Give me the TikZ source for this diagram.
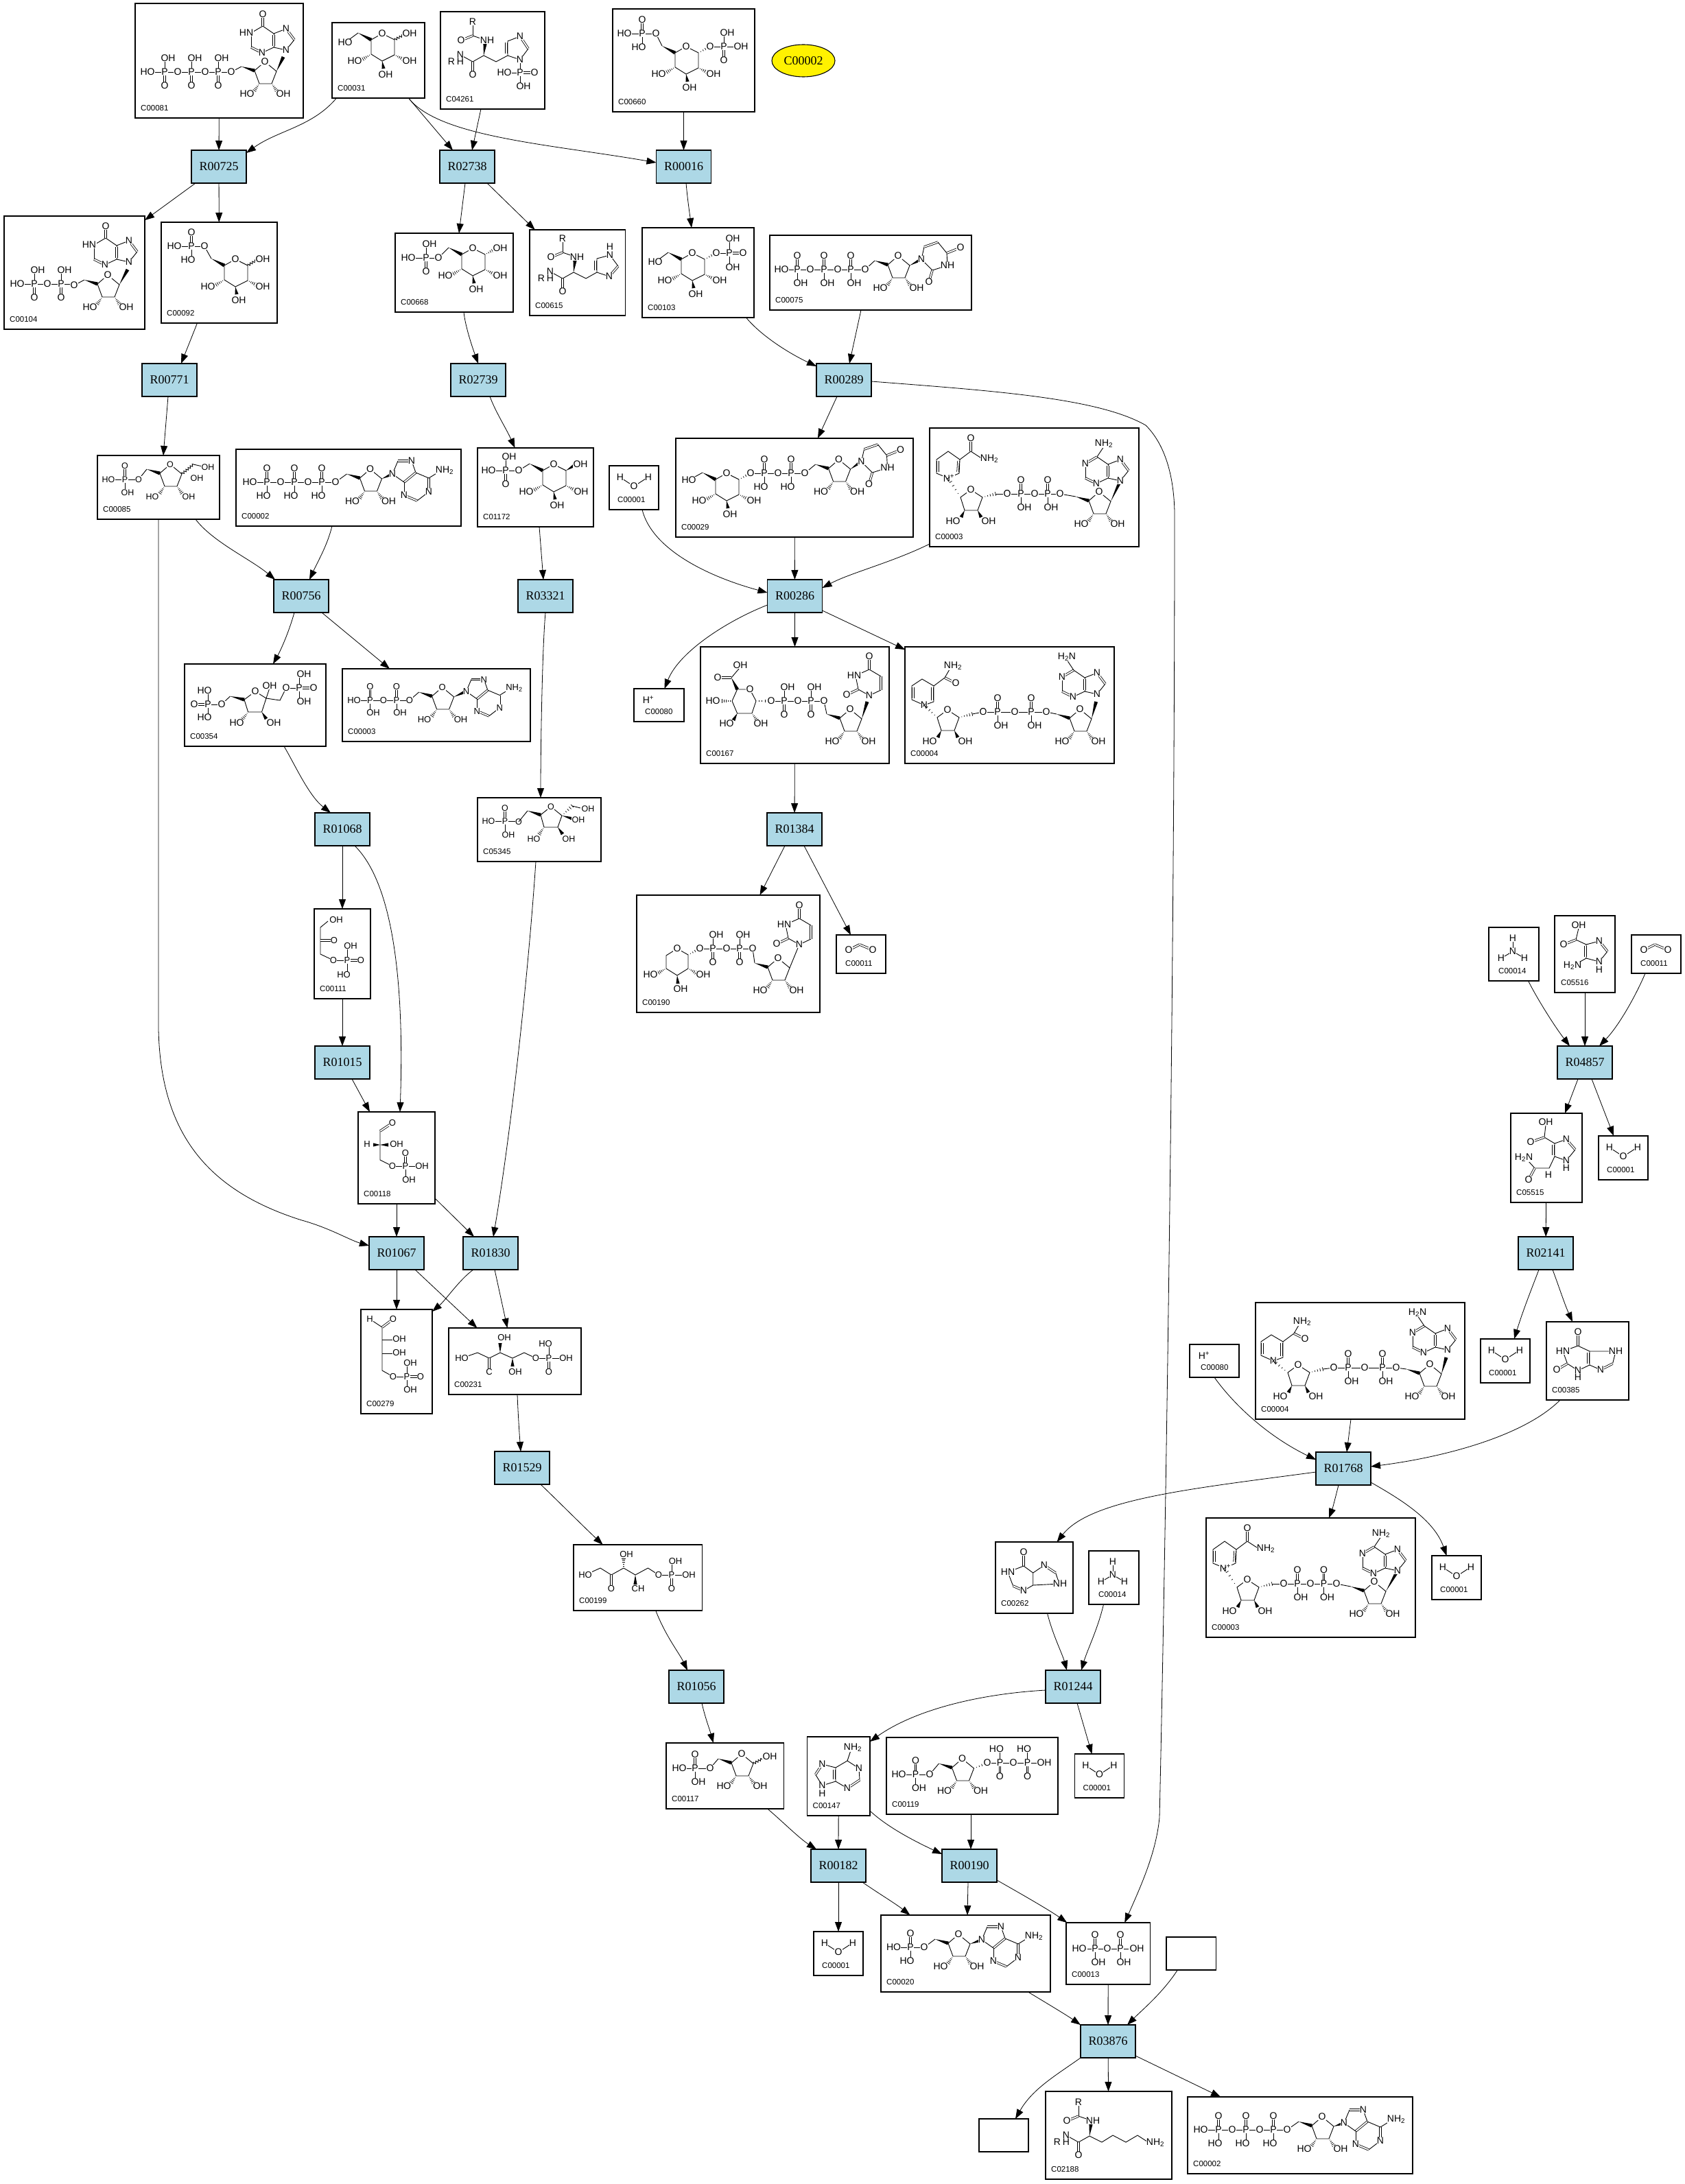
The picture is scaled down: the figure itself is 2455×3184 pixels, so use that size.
\documentclass[tikz,border=0pt]{standalone}
\usepackage{fontspec}
\setmainfont{Liberation Sans}
\newfontfamily\rfont{Liberation Serif}
\usetikzlibrary{calc,arrows.meta,shapes.geometric,decorations.pathmorphing}
\definecolor{lb}{HTML}{ADD8E6}
\def\afs{14}
\newcount\atomn
\tikzset{
 cpd/.style={draw,line width=1.1pt,inner sep=0pt,outer sep=0pt},
 rxn/.style={draw,line width=1.1pt,fill=lb,inner sep=0pt,outer sep=0pt,minimum width=80pt,minimum height=48pt,font=\rfont\fontsize{18}{18}\selectfont},
 lbl/.style={anchor=west,inner sep=0pt,font=\fontsize{11.5}{11.5}\selectfont},
 atom/.style={fill=white,inner sep=0.4pt,font=\fontsize{\afs}{\afs}\selectfont},
 bond/.style={line width=0.9pt},
 dbl/.style={line width=0.8pt,double,double distance=1.8pt},
 conn/.style={line width=0.8pt,-{Triangle[length=14pt,width=10pt]}},
}
\newcommand\At[3]{\global\advance\atomn by 1 \node[atom] (at\the\atomn) at (#1,#2) {#3};}
\newcommand\Bd[1]{\draw[bond] #1;}
\newcommand\Db[1]{\draw[dbl] #1;}
\newcommand\HL[3]{\draw[bond] (#1,#3)--(#2,#3);}
\newcommand\Wd[2]{\fill (#1) -- ($(#2)!2.6pt!90:(#1)$) -- ($(#2)!2.6pt!-90:(#1)$) -- cycle;}
\newcommand\Hs[2]{\foreach \hh in {.2,.4,.6,.8,1}{\draw[line width=.7pt] ($(#1)!\hh!(#2)!\hh*2.8pt!90:(#1)$) -- ($(#1)!\hh!(#2)!\hh*2.8pt!-90:(#1)$);}}
\newcommand\Wv[2]{\draw[bond,decorate,decoration={zigzag,amplitude=1.6pt,segment length=4pt}] (#1)--(#2);}
\def\offO{0}\def\offOH{5}\def\offHO{-5}\def\dblO{}
\newcommand\Vb[4]{\pgfmathsetmacro\tx{#1+\csname off#3\endcsname}\pgfmathsetmacro\ty{#2+(#4)}%
 \ifcsname dbl#3\endcsname\draw[dbl] (#1,#2)--(#1,\ty);\else\draw[bond] (#1,#2)--(#1,\ty);\fi\At{\tx}{\ty}{#3}}
\newcommand\PP[4]{\Vb{#1}{#2}{#3}{-20}\Vb{#1}{#2}{#4}{20}\At{#1}{#2}{P}}
\newcommand\Rib[4]{\begin{scope}[shift={(#1,#2)}]
 \Bd{(-15,13)--(0,0)--(17,14)--(10,32)--(-8,32)--cycle}
 \coordinate (ch) at (-34,7);\coordinate (c1) at (17,14);
 \Wd{-34,7}{-15,13}\Hs{-8,32}{-15,42}\Hs{10,32}{17,42}
 \At{0}{0}{O}\At{-26}{47}{HO}\At{27}{47}{OH}\end{scope}
 \Bd{(ch)--(#3,#4)}\At{#3}{#4}{O}}
\newcommand\RibN[6]{\begin{scope}[shift={(#1,#2)}]
 \Bd{(-15,11)--(0,0)--(17,11)--(10,30)--(-9,30)--cycle}
 \coordinate (rc1) at (-15,11);\coordinate (rc4) at (36,6);
 \Hs{17,11}{36,6}\Wd{-9,30}{-14,40}\Wd{10,30}{15,40}
 \At{0}{0}{O}\At{-26}{46}{HO}\At{26}{46}{OH}\end{scope}
 \Hs{rc1}{#3,#4}\Bd{(rc4)--(#5,#6)}\At{#5}{#6}{O}}
\newcommand\Pyr[2]{\begin{scope}[shift={(#1,#2)}]
 \Bd{(-16,9)--(0,0)--(18,9)--(18,31)--(0,40)--(-16,30)--cycle}
 \coordinate (ch) at (-35,-1);\coordinate (c1) at (18,9);
 \Wd{-35,-1}{-16,9}\Hs{-16,30}{-28,37}\Hs{18,31}{30,37}\Wd{0,40}{2,51}
 \At{0}{0}{O}\At{-40}{40}{HO}\At{40}{40}{OH}\At{5}{60}{OH}\end{scope}}
\newcommand\PurS{%
 \Bd{(0,0)--(12,-15)}\Db{(12,-15)--(0,-31)}\Bd{(0,-31)--(-18,-24)}\Bd{(-18,-24)--(-18,-4)}
 \Bd{(-18,-4)--(0,0)}\Bd{(-18,-4)--(-35,4)}\Db{(-35,4)--(-51,-4)}\Bd{(-51,-4)--(-51,-25)}
 \Bd{(-34,-35)--(-18,-24)}\Bd{(-51,-25)--(-34,-35)}\Db{(-18,-22)--(-18,-6)}
 \At{0}{0}{N}\At{0}{-31}{N}\At{-35}{4}{N}}
\newcommand\PurA[4]{\begin{scope}[shift={(#1,#2)}]\PurS\Db{(-51,-25)--(-34,-35)}
 \Bd{(-34,-35)--(#3,-50)}\At{-51}{-25}{N}\At{#3}{-54}{#4}\end{scope}}
\newcommand\PurH[2]{\begin{scope}[shift={(#1,#2)}]\PurS
 \Db{(-34,-35)--(-34,-50)}\At{-58}{-25}{HN}\At{-34}{-52}{O}\end{scope}}
\newcommand\AdeR[2]{\begin{scope}[shift={(#1,#2)}]
 \Bd{(0,0)--(8,-19)}\Db{(8,-19)--(28,-19)}\Bd{(28,-19)--(34,-2)}\Db{(34,-2)--(17,12)}\Bd{(17,12)--(0,0)}
 \Bd{(17,12)--(17,31)}\Db{(17,31)--(36,39)}\Bd{(36,39)--(53,26)}\Db{(53,26)--(53,6)}\Bd{(53,6)--(34,-2)}\Bd{(53,6)--(66,-2)}
 \At{0}{0}{N}\At{28}{-19}{N}\At{17}{31}{N}\At{53}{26}{N}\At{76}{-5}{NH\textsubscript{2}}\end{scope}}
\newcommand\UraA[2]{\begin{scope}[shift={(#1,#2)}]
 \Bd{(0,0)--(4,-18)}\Db{(4,-18)--(24,-25)}\Bd{(24,-25)--(37,-9)}\Db{(37,-9)--(57,-17)}\Bd{(37,-9)--(38,9)}\Bd{(38,9)--(16,16)}\Db{(16,16)--(11,33)}\Bd{(16,16)--(0,0)}
 \At{0}{0}{N}\At{38}{9}{NH}\At{57}{-17}{O}\At{11}{33}{O}\end{scope}}
\newcommand\UraB[2]{\begin{scope}[shift={(#1,#2)}]
 \Bd{(0,0)--(17,-8)}\Db{(17,-8)--(17,-28)}\Bd{(17,-28)--(0,-38)}\Db{(0,-38)--(0,-57)}\Bd{(0,-38)--(-20,-29)}\Bd{(-20,-29)--(-16,-9)}\Db{(-16,-9)--(-33,-1)}\Bd{(-16,-9)--(0,0)}
 \At{0}{0}{N}\At{-22}{-29}{HN}\At{0}{-57}{O}\At{-33}{-1}{O}\end{scope}}
\newcommand\Pept[2]{\begin{scope}[shift={(#1,#2)}]
 \Wd{0,0}{2,-17}\Bd{(0,0)--(-16,9)}\Db{(-16,9)--(-16,28)}\Bd{(-16,9)--(-34,-1)}\Bd{(0,0)--(18,9)}
 \Bd{(4,-22)--(-16,-29)}\Bd{(-16,-29)--(-16,-49)}\Db{(-16,-29)--(-33,-22)}
 \At{-16}{28}{O}\At{-34}{-1}{N}\At{-34}{9}{H}\At{-47}{9}{R}\At{5}{-22}{NH}\At{-16}{-49}{R}\At{-33}{-22}{O}\end{scope}}
\newcommand\Nam[2]{\begin{scope}[shift={(#1,#2)}]
 \Bd{(0,0)--(16,-7)--(17,-27)--(0,-39)--(-17,-27)--(-17,-7)--cycle}
 \Db{(14,-9)--(15,-25)}\Db{(-15,-25)--(-15,-9)}\Bd{(17,-27)--(33,-39)}\Db{(33,-39)--(33,-58)}\Bd{(33,-39)--(50,-28)}
 \At{33}{-58}{O}\At{60}{-28}{NH\textsubscript{2}}\At{1}{0}{N\textsuperscript{+}}\end{scope}}
\newcommand\NamH[2]{\begin{scope}[shift={(#1,#2)}]
 \Bd{(0,0)--(14,-5)--(14,-28)--(-3,-38)--(-18,-28)--(-18,-8)--cycle}
 \Db{(-16,-26)--(-16,-10)}\Db{(12,-7)--(12,-26)}\Bd{(14,-28)--(30,-40)}\Db{(30,-40)--(46,-32)}\Bd{(30,-40)--(37,-52)}
 \At{46}{-32}{O}\At{42}{-57}{NH\textsubscript{2}}\At{0}{0}{N}\end{scope}}
\newcommand\Bx[5]{\pgfmathsetmacro\cx{(#2+#4)/2}\pgfmathsetmacro\cy{(#3+#5)/2}\pgfmathsetmacro\bw{#4-(#2)}\pgfmathsetmacro\bh{#5-(#3)}%
 \node[cpd,minimum width=\bw pt,minimum height=\bh pt] (#1) at (\cx,\cy) {};}
\newcommand\Cpd[7][8]{\Bx{#2}{#3}{#4}{#5}{#6}\pgfmathsetmacro\lx{#3+#1}\pgfmathsetmacro\ly{#6-14}%
 \node[lbl] (l#2) at (\lx,\ly) {#7};}
\newcommand\Rn[3]{\pgfmathsetmacro\cx{#2+40}\pgfmathsetmacro\cy{#3+24}\node[rxn] (#1) at (\cx,\cy) {#1};}
\newcommand\Water[3]{\pgfmathsetmacro\xb{#2+72}\pgfmathsetmacro\yb{#3+64}\Cpd[12]{#1}{#2}{#3}{\xb}{\yb}{C00001}
 \begin{scope}[shift={(#2,#3)}]\Bd{(16,17)--(36,30)--(56,17)}\At{16}{17}{H}\At{36}{30}{O}\At{57}{17}{H}\end{scope}}
\newcommand\COO[3]{\pgfmathsetmacro\xb{#2+72}\pgfmathsetmacro\yb{#3+56}\Cpd[13]{#1}{#2}{#3}{\xb}{\yb}{C00011}
 \begin{scope}[shift={(#2,#3)}]\Db{(18,22)--(34,14)}\Db{(34,14)--(53,22)}\At{18}{22}{O}\At{53}{22}{O}\end{scope}}
\newcommand\Amm[3]{\pgfmathsetmacro\xb{#2+73}\pgfmathsetmacro\yb{#3+78}\Cpd[14]{#1}{#2}{#3}{\xb}{\yb}{C00014}
 \begin{scope}[shift={(#2,#3)}]\Bd{(35,16)--(35,35)}\Bd{(18,45)--(35,35)--(52,45)}\At{35}{16}{H}\At{35}{35}{N}\At{18}{45}{H}\At{52}{45}{H}\end{scope}}
\begin{document}
\begin{tikzpicture}[x=1pt,y=-1pt]
\fill[white,use as bounding box] (0,0) rectangle (2455,3184);
% ---------- reactions
\Rn{R00725}{279}{219}\Rn{R02738}{641}{219}\Rn{R00016}{956.5}{219}
\Rn{R00771}{207}{530}\Rn{R02739}{657}{530}\Rn{R00289}{1190}{530}
\Rn{R00756}{399}{845}\Rn{R03321}{755}{845}\Rn{R00286}{1118.5}{845}
\Rn{R01068}{459}{1185}\Rn{R01384}{1118}{1185}\Rn{R01015}{459}{1525}\Rn{R04857}{2270}{1525}
\Rn{R01067}{538}{1803}\Rn{R01830}{675}{1803}\Rn{R02141}{2213}{1803}
\Rn{R01768}{1918}{2117}\Rn{R01529}{721}{2116}\Rn{R01056}{975}{2435}\Rn{R01244}{1524}{2435}
\Rn{R00182}{1182}{2696}\Rn{R00190}{1373}{2696}\Rn{R03876}{1575}{2952}
\node[draw,line width=1.1pt,fill=yellow,ellipse,inner sep=0pt,minimum width=92pt,minimum height=47pt,font=\rfont\fontsize{18}{18}\selectfont] (C00002y) at (1171,88.5) {C00002};
% ---------- C00081
\Cpd{C00081}{197}{5}{442}{172}{C00081}
\HL{225}{337}{105}\PP{240}{105}{OH}{O}\PP{279}{105}{OH}{O}\PP{318}{105}{OH}{O}
\At{215}{105}{HO}\At{259}{105}{O}\At{299}{105}{O}
\Rib{386}{90}{337}{105}\Wd{c1}{413,83}\PurH{417}{73}
% C00031
\Cpd{C00031}{484}{33}{619}{143}{C00031}
\Pyr{557}{49}\Bd{(ch)--(503,62)}\At{503}{62}{HO}\Wv{c1}{590,50}\At{597}{49}{OH}
% C04261
\Cpd{C04261}{642}{17}{794}{159}{C04261}
\Pept{705}{81}\Bd{(723,90)--(740,81)--(740,60)--(758,53)--(770,71)--(758,87)--(740,81)}\Bd{(758,87)--(758,106)}\HL{745}{768}{106}
\Db{(738,78)--(738,62)}\Db{(758,53)--(770,71)}\At{758}{53}{N}\At{758}{87}{N}
\Db{(758,106)--(779,106)}\Bd{(758,106)--(758,126)}\At{735}{106}{HO}\At{758}{106}{P}\At{779}{106}{O}\At{763}{126}{OH}
% C00660
\Cpd{C00660}{893}{13}{1100}{163}{C00660}
\HL{920}{956}{49}\PP{936}{49}{O}{HO}\At{910}{49}{HO}
\Pyr{1000}{68}\Bd{(ch)--(956,49)}\At{956}{49}{O}\Hs{c1}{1035,68}
\HL{1035}{1075}{68}\PP{1055}{68}{OH}{O}\At{1035}{68}{O}\At{1080}{68}{OH}
% C00104
\Cpd{C00104}{6}{315}{211}{480}{C00104}
\HL{35}{108}{414}\PP{50}{414}{OH}{O}\PP{89}{414}{OH}{O}\At{25}{414}{HO}\At{69}{414}{O}
\Rib{157}{401}{108}{416}\Wd{c1}{186,393}\PurH{188}{382}
% C00092
\Cpd{C00092}{235}{324}{404}{471}{C00092}
\HL{265}{298}{359}\PP{279}{359}{O}{HO}\At{254}{359}{HO}
\Pyr{343}{378}\Bd{(ch)--(298,359)}\At{298}{359}{O}\Wv{c1}{376,378}\At{383}{378}{OH}
% C00668
\Cpd{C00668}{576}{340}{748}{455}{C00668}
\HL{605}{639}{376}\PP{621}{376}{OH}{O}\At{595}{376}{HO}
\Pyr{689}{362}\Bd{(ch)--(639,376)}\At{639}{376}{O}\Hs{c1}{720,364}\At{729}{362}{OH}
% C00615
\Cpd{C00615}{772}{335}{911.5}{460}{C00615}
\Pept{836}{397}\Bd{(854,406)--(870,397)--(870,377)--(889,372)--(901,388)--(888,403)--(870,397)}\Db{(868,394)--(868,380)}\Db{(901,388)--(888,403)}
\At{889}{372}{N}\At{889}{360}{H}\At{888}{403}{N}
% C00103
\Cpd{C00103}{936}{332}{1099}{463}{C00103}
\Pyr{1009}{369}\Bd{(ch)--(955,382)}\At{955}{382}{HO}\Hs{c1}{1044,369}
\HL{1044}{1063}{369}\Db{(1063,369)--(1082,369)}\Bd{(1063,348)--(1063,390)}
\At{1044}{369}{O}\At{1063}{369}{P}\At{1083}{369}{O}\At{1068}{348}{OH}\At{1068}{390}{OH}
% C00075
\Cpd{C00075}{1122}{343}{1416}{452}{C00075}
\HL{1150}{1261}{393}\PP{1162}{393}{O}{OH}\PP{1201}{393}{O}{OH}\PP{1240}{393}{O}{OH}
\At{1139}{393}{HO}\At{1181}{393}{O}\At{1221}{393}{O}
\Rib{1309}{373}{1261}{393}\Wd{c1}{1343,378}\UraA{1343}{378}
% C00085
\def\afs{12.5}
\Cpd{C00085}{142}{664}{320}{757}{C00085}
\HL{165}{202}{699}\Db{(182,699)--(182,679)}\Bd{(182,699)--(182,718)}\At{158}{699}{HO}\At{182}{699}{P}\At{182}{679}{O}\At{186}{718}{OH}
\Rib{248}{677}{202}{699}\Wv{c1}{282,677}\Bd{(282,677)--(295,680)}\At{303}{681}{OH}\At{287}{697}{OH}
\def\afs{14}
% C00002
\Cpd{C00002}{344}{655}{672}{767}{C00002}
\HL{375}{489}{703}\PP{389}{703}{O}{HO}\PP{429}{703}{O}{HO}\PP{469}{703}{O}{HO}
\At{364}{703}{HO}\At{409}{703}{O}\At{449}{703}{O}
\Rib{539.5}{684}{489}{703}\Wd{c1}{572,691}\AdeR{572}{691}
% C01172
\Cpd{C01172}{696}{653}{865}{768}{C01172}
\HL{722}{756}{686}\PP{737}{686}{OH}{O}\At{712}{686}{HO}
\Pyr{807}{677}\Bd{(ch)--(756,686)}\At{756}{686}{O}\Wd{c1}{838,678}\At{846}{677}{OH}
% C00354
\Cpd{C00354}{269}{968}{475}{1088}{C00354}
\Bd{(356,1020)--(372,1008)--(388,1018)--(381.5,1038)--(361.6,1038)--cycle}
\Wd{335.5,1015}{356,1020}\Bd{(335.5,1015)--(323,1027)}\Bd{(388,1018)--(393,1003)}\Bd{(388,1018)--(408,1021)--(417,1003)}
\Hs{361.6,1038}{354,1048}\Wd{381.5,1038}{388,1048}
\At{372}{1008}{O}\At{393}{1000}{OH}\At{345}{1054}{HO}\At{399}{1054}{OH}
\HL{417}{436}{1003}\Db{(436,1003)--(457,1003)}\Bd{(436,983)--(436,1023)}\At{417}{1003}{O}\At{436}{1003}{P}\At{457}{1003}{O}\At{443}{983}{OH}\At{443}{1023}{OH}
\HL{303}{323}{1027}\Db{(303,1027)--(283,1027)}\Bd{(303,1007)--(303,1046)}\At{303}{1027}{P}\At{283}{1027}{O}\At{298}{1007}{HO}\At{298}{1046}{HO}\At{323}{1027}{O}
% C00003a
\def\afs{13}
\Cpd{C00003a}{499}{975}{773}{1081}{C00003}
\HL{525}{597}{1021}\Db{(539.5,1021)--(539.5,1001)}\Bd{(539.5,1021)--(539.5,1039)}\Db{(578,1021)--(578,1001)}\Bd{(578,1021)--(578,1039)}
\At{516}{1021}{HO}\At{539.5}{1021}{P}\At{559}{1021}{O}\At{578}{1021}{P}\At{539.5}{1001}{O}\At{578}{1001}{O}\At{544}{1039}{OH}\At{583}{1039}{OH}
\Rib{644.6}{1002}{597}{1021}\Wd{c1}{679,1008}
\begin{scope}[shift={(679.6,1008)},scale=.92]\Bd{(0,0)--(8,-19)}\Db{(8,-19)--(28,-19)}\Bd{(28,-19)--(34,-2)}\Db{(34,-2)--(17,12)}\Bd{(17,12)--(0,0)}
\Bd{(17,12)--(17,31)}\Db{(17,31)--(36,39)}\Bd{(36,39)--(53,26)}\Db{(53,26)--(53,6)}\Bd{(53,6)--(34,-2)}\Bd{(53,6)--(66,-2)}
\At{0}{0}{N}\At{28}{-19}{N}\At{17}{31}{N}\At{53}{26}{N}\At{76}{-5}{NH\textsubscript{2}}\end{scope}
\def\afs{14}
% C00001s, H+
\Water{C00001a}{888}{679}
\Cpd[16]{C00080a}{924}{1004}{997}{1052}{C00080}\At{945}{1020}{H\textsuperscript{+}}
% C00029
\Cpd{C00029}{985}{639}{1331}{783}{C00029}
\Pyr{1059}{690}\Bd{(ch)--(1004,700)}\At{1004}{700}{HO}\Hs{c1}{1094,690}
\HL{1094}{1173}{690}\Vb{1114}{690}{O}{-20}\Vb{1114}{690}{HO}{20}\At{1114}{690}{P}\Vb{1153}{690}{O}{-20}\Vb{1153}{690}{HO}{20}\At{1153}{690}{P}
\At{1094}{690}{O}\At{1134}{690}{O}
\Rib{1222.6}{670}{1173}{690}\Wd{c1}{1255,673}\UraA{1255.5}{673}
% C00003b
\Cpd{C00003b}{1355}{624}{1660}{797}{C00003}
\Nam{1382}{697}\RibN{1415}{714}{1382}{697}{1468}{720}
\HL{1468}{1545}{720}\PP{1488}{720}{O}{OH}\PP{1527}{720}{O}{OH}\At{1468}{720}{O}\At{1508}{720}{O}
\Rib{1602}{717}{1545}{720}\Wd{c1}{1633,701}\PurA{1633}{701}{-24}{NH\textsubscript{2}}
% C00167
\Cpd{C00167}{1021}{943}{1296}{1113}{C00167}
\Bd{(1093,1005)--(1074.6,1005)--(1067,1022)--(1074.6,1040)--(1096,1040)--(1102,1022)--cycle}
\Wd{1066,988}{1074.6,1005}\Db{(1066,988)--(1046,988)}\Bd{(1066,988)--(1077,975)}\At{1079}{970}{OH}\At{1046}{988}{O}
\At{1093}{1005}{O}\Hs{1067,1022}{1052,1022}\At{1039}{1022}{HO}\Wd{1074.6,1040}{1069,1050}\At{1059}{1055}{HO}\Hs{1096,1040}{1103,1050}\At{1109}{1055}{OH}\Hs{1102,1022}{1124,1022}
\HL{1124}{1201}{1022}\PP{1143}{1022}{OH}{O}\PP{1182}{1022}{OH}{O}\At{1124}{1022}{O}\At{1163}{1022}{O}
\Rib{1239}{1034}{1201}{1022}\Wd{c1}{1264,1023}\UraB{1267}{1014}
% C00004a
\Cpd{C00004a}{1319}{943}{1624}{1113}{C00004}
\NamH{1347}{1028}\RibN{1381}{1035}{1347}{1028}{1433}{1038}
\HL{1433}{1525}{1038}\PP{1454}{1038}{O}{OH}\PP{1503}{1038}{O}{OH}\At{1433}{1038}{O}\At{1479}{1038}{O}
\Rib{1574}{1034}{1525}{1038}\Wd{c1}{1597.6,1023}\PurA{1599}{1012}{-44}{H\textsubscript{2}N}
% C00190
\Cpd{C00190}{928}{1305}{1195}{1476}{C00190}
\Bd{(987,1383)--(971,1393)--(971,1412)--(987,1422)--(1003,1412)--(1003,1392)--cycle}
\Hs{971,1412}{960,1418}\Hs{1003,1412}{1014,1418}\Wd{987,1422}{988,1434}\At{987}{1383}{O}\At{948}{1421}{HO}\At{1025}{1421}{OH}\At{992}{1442}{OH}\Hs{1003,1392}{1020,1383}
\HL{1020}{1097}{1383}\PP{1039}{1383}{OH}{O}\PP{1078}{1383}{OH}{O}\At{1020}{1383}{O}\At{1059}{1383}{O}
\Rib{1134}{1397}{1097}{1383}\Bd{(c1)--(1165,1377)}\UraB{1165}{1377}
% C00011a
\COO{C00011a}{1219}{1363}
% C05345
\def\afs{12.5}
\Cpd{C05345}{696}{1163}{876}{1256}{C05345}
\HL{712}{756}{1197}\Db{(736,1197)--(736,1178)}\Bd{(736,1197)--(736,1217)}\At{712}{1197}{HO}\At{736}{1197}{P}\At{736}{1178}{O}\At{741}{1217}{OH}\At{756}{1198}{O}
\Bd{(756,1198)--(769,1182)}\Wd{769,1182}{788,1188}\Bd{(788,1188)--(803,1176)--(819,1189)--(813,1206)--(793,1206)--cycle}
\Hs{793,1206}{786,1216}\Wd{813,1206}{820,1216}\Hs{819,1189}{834,1175}\Bd{(834,1175)--(846,1178)}\Wd{819,1189}{836,1194}
\At{803}{1176}{O}\At{857}{1179}{OH}\At{843}{1195}{OH}\At{778}{1223}{HO}\At{829}{1223}{OH}
\def\afs{13}
% C00111
\Cpd{C00111}{458}{1325}{540}{1456}{C00111}
\Bd{(478,1343)--(467,1352)--(467,1391)--(486,1400)}\Db{(467,1371)--(487,1371)}\HL{486}{506}{1400}\Db{(506,1400)--(526,1400)}\Bd{(506,1381)--(506,1419)}
\At{490}{1341}{OH}\At{487}{1371}{O}\At{486}{1400}{O}\At{506}{1400}{P}\At{526}{1400}{O}\At{511}{1379}{OH}\At{501}{1421}{HO}
% C00118
\Cpd{C00118}{522}{1621}{634}{1755}{C00118}
\Db{(554,1649)--(572,1637)}\Bd{(554,1649)--(554,1691)--(572,1700)}\Wd{554,1669}{544,1669}\Wd{554,1669}{566,1669}
\HL{572}{615}{1700}\Db{(591,1700)--(591,1681)}\Bd{(591,1700)--(591,1720)}
\At{572}{1637}{O}\At{535}{1668}{H}\At{578}{1668}{OH}\At{572}{1700}{O}\At{591}{1700}{P}\At{615}{1700}{OH}\At{591}{1681}{O}\At{596}{1720}{OH}
% C00279
\Cpd{C00279}{526}{1909}{630}{2061}{C00279}
\Bd{(539,1923)--(557,1935)--(557,1998)--(573,2007)}\Db{(557,1935)--(573,1923)}\Bd{(557,1953)--(582,1953)}\Bd{(557,1973)--(582,1973)}
\HL{573}{593}{2007}\Db{(593,2007)--(613,2007)}\Bd{(593,1988)--(593,2026)}
\At{539}{1923}{H}\At{573}{1923}{O}\At{582}{1952}{OH}\At{582}{1972}{OH}\At{573}{2007}{O}\At{593}{2007}{P}\At{613}{2007}{O}\At{598}{1987}{OH}\At{598}{2026}{OH}
% C00231
\Cpd{C00231}{654}{1936}{847}{2033}{C00231}
\Bd{(673,1980)--(696,1972)--(713,1980)--(729,1972)--(747,1980)--(764,1972)--(781,1980)}\Db{(713,1980)--(713,2000)}\Wd{729,1972}{729,1958}\Wd{747,1980}{747,1992}
\HL{781}{825}{1980}\Db{(800,1980)--(800,2000)}\Bd{(800,1980)--(800,1960)}
\At{673}{1980}{HO}\At{713}{2000}{C}\At{735}{1950}{OH}\At{751}{2000}{OH}\At{781}{1980}{O}\At{800}{1980}{P}\At{825}{1980}{OH}\At{795}{1959}{HO}\At{800}{2000}{O}
% C00199
\Cpd{C00199}{836}{2252}{1023.5}{2348}{C00199}
\Bd{(853,2296)--(875,2286)--(891,2296)--(909,2286)--(926,2296)--(944.5,2286)--(960,2296)}\Db{(891,2296)--(891,2316)}\Hs{909,2286}{909,2272}\Wd{926,2296}{926,2310}
\HL{960}{1004}{2296}\Db{(979,2296)--(979,2316)}\Bd{(979,2296)--(979,2276)}
\At{853}{2296}{HO}\At{891}{2316}{O}\At{913}{2266}{OH}\At{930}{2316}{CH}\At{960}{2296}{O}\At{979}{2296}{P}\At{1004}{2296}{OH}\At{984.5}{2276}{OH}\At{979}{2316}{O}
\def\afs{14}
% C00117
\Cpd{C00117}{971}{2541}{1142.5}{2637}{C00117}
\HL{990}{1035}{2578}\PP{1013}{2578}{O}{OH}\At{990}{2578}{HO}
\Rib{1081}{2557}{1035}{2578}\Wv{c1}{1115,2562}\At{1122}{2561}{OH}
% C00147
\Cpd{C00147}{1176.5}{2532}{1268}{2647}{C00147}
\Bd{(1235,2567)--(1252,2578)--(1253,2595)--(1235,2607)--(1218,2597)--(1218,2577)--cycle}\Bd{(1218,2577)--(1198.5,2572)--(1188.6,2587)--(1198.5,2603)--(1218,2597)}
\Db{(1216,2580)--(1216,2594)}\Db{(1198.5,2572)--(1188.6,2587)}\Db{(1235,2607)--(1253,2595)}\Bd{(1235,2567)--(1240,2552)}
\At{1243}{2548}{NH\textsubscript{2}}\At{1252}{2578}{N}\At{1235}{2607}{N}\At{1198.5}{2572}{N}\At{1198.5}{2603}{N}\At{1198.5}{2615}{H}
% C00119
\Cpd{C00119}{1292}{2533}{1542}{2645}{C00119}
\HL{1320}{1355}{2587}\PP{1334.5}{2587}{O}{OH}\At{1310}{2587}{HO}
\Rib{1402.5}{2564}{1355}{2587}\Hs{c1}{1439,2570}
\HL{1439}{1522}{2570}\PP{1457.4}{2570}{HO}{O}\PP{1497.5}{2570}{HO}{O}\At{1439}{2570}{O}\At{1477}{2570}{O}\At{1522}{2570}{OH}
% C00262
\Cpd{C00262}{1451}{2248}{1564}{2352}{C00262}
\Db{(1492,2263)--(1492,2283)}\Bd{(1492,2283)--(1469,2292)--(1476.6,2312)--(1492,2319)--(1505.7,2311)--(1505.7,2293)--(1492,2283)}\Bd{(1505.7,2293)--(1522,2282)--(1538.6,2293)--(1544,2309)--(1505.7,2311)}\Db{(1476.6,2312)--(1492,2319)}\Db{(1522,2282)--(1538.6,2293)}
\At{1492}{2263}{O}\At{1469}{2292}{HN}\At{1492}{2319}{N}\At{1522}{2282}{N}\At{1545}{2309}{NH}
% waters etc
\Amm{C00014c}{1587}{2261}
\Water{C00001g}{1566.5}{2557}
\Water{C00001h}{1186}{2816}
% C00020
\Cpd{C00020}{1284}{2792}{1531}{2904}{C00020}
\HL{1312}{1347}{2839}\PP{1327}{2839}{O}{HO}\At{1302.5}{2839}{HO}
\Rib{1397}{2820}{1347}{2839}\Wd{c1}{1431,2828}\AdeR{1431}{2828}
% C00013
\Cpd{C00013}{1554}{2803}{1676.5}{2893}{C00013}
\HL{1585}{1645}{2841}\Vb{1596}{2841}{O}{-20}\Vb{1596}{2841}{OH}{20}\At{1596}{2841}{P}\Vb{1633}{2841}{O}{-20}\Vb{1633}{2841}{OH}{20}\At{1633}{2841}{P}
\At{1573}{2841}{HO}\At{1614}{2841}{O}\At{1657}{2841}{OH}
\Bx{Eempty}{1700}{2824}{1772.6}{2872}
\Bx{Fempty}{1427}{3089}{1499}{3137}
% C02188
\Cpd{C02188}{1524}{3049}{1708}{3177}{C02188}
\Pept{1588}{3114}\Bd{(1606,3123)--(1622,3113)--(1641,3123)--(1658,3113)--(1675,3124)}\At{1684}{3124}{NH\textsubscript{2}}
% C00002c
\Cpd{C00002c}{1731}{3057}{2059}{3169}{C00002}
\HL{1760}{1876}{3105}\PP{1776}{3105}{O}{HO}\PP{1816}{3105}{O}{HO}\PP{1856}{3105}{O}{HO}
\At{1750}{3105}{HO}\At{1796}{3105}{O}\At{1836}{3105}{O}
\Rib{1927}{3086}{1876}{3105}\Wd{c1}{1959,3095}\AdeR{1959}{3095}
% right side
\Amm{C00014a}{2170}{1352}
\Cpd[9]{C05516}{2266}{1335}{2354}{1447}{C05516}
\Bd{(2301,1353)--(2297,1370)--(2312,1377)}\Bd{(2312,1377)--(2331,1372)--(2343,1387)--(2331,1402)--(2312,1397)--cycle}\Db{(2297,1370)--(2279,1377)}\Db{(2311,1379)--(2311,1395)}\Db{(2331,1372)--(2343,1387)}\Bd{(2312,1397)--(2296,1406)}
\At{2301}{1349}{OH}\At{2279}{1377}{O}\At{2331}{1372}{N}\At{2331}{1402}{N}\At{2331}{1414}{H}\At{2292}{1408}{H\textsubscript{2}N}
\COO{C00011b}{2378}{1363}
\Cpd{C05515}{2202}{1623}{2306}{1753}{C05515}
\Bd{(2253,1640)--(2251,1658)--(2266,1667)}\Bd{(2266,1667)--(2283,1661)--(2296,1676)--(2283,1692)--(2266,1686)--cycle}\Db{(2251,1658)--(2231,1665)}\Db{(2264,1669)--(2264,1684)}\Db{(2283,1661)--(2296,1676)}\Bd{(2266,1686)--(2258,1703)--(2237,1703)--(2227,1692)}\Db{(2237,1703)--(2228,1720)}
\At{2253}{1636}{OH}\At{2231}{1665}{O}\At{2283}{1661}{N}\At{2283}{1692}{N}\At{2283}{1703}{H}\At{2257}{1713}{H}\At{2221}{1688}{H\textsubscript{2}N}\At{2228}{1720}{O}
\Water{C00001d}{2330}{1656}
\Water{C00001e}{2158}{1952}
\Cpd{C00385}{2254}{1927}{2374}{2041}{C00385}
\Db{(2300,1942)--(2300,1962)}\Bd{(2300,1962)--(2278,1970)--(2284.5,1988)--(2300,1998)--(2317,1990)--(2317,1970)--cycle}\Db{(2284.5,1988)--(2269,1997)}\Bd{(2317,1970)--(2355,1970)--(2350.5,1988)--(2333,1997)--(2317,1990)}\Db{(2315,1972)--(2315,1988)}\Db{(2350.5,1988)--(2333,1997)}
\At{2300}{1942}{O}\At{2278}{1970}{HN}\At{2269}{1997}{O}\At{2300}{1998}{N}\At{2300}{2008}{H}\At{2355}{1970}{NH}\At{2333}{1997}{N}
\Cpd[16]{C00080b}{1734}{1960}{1806}{2008}{C00080}\At{1755}{1976}{H\textsuperscript{+}}
% C00004b
\Cpd{C00004b}{1830}{1899}{2135}{2069}{C00004}
\NamH{1856}{1984}\RibN{1892}{1990}{1856}{1984}{1944}{1994}
\HL{1944}{2035}{1994}\PP{1965}{1994}{O}{OH}\PP{2015}{1994}{O}{OH}\At{1944}{1994}{O}\At{1989}{1994}{O}
\Rib{2084}{1989}{2035}{1994}\Wd{c1}{2108,1979}\PurA{2110}{1968}{-44}{H\textsubscript{2}N}
% C00003c
\Cpd{C00003c}{1758}{2213}{2063}{2387}{C00003}
\Nam{1785}{2286}\RibN{1818}{2303}{1785}{2286}{1871}{2309}
\HL{1871}{1948}{2309}\PP{1891}{2309}{O}{OH}\PP{1929.5}{2309}{O}{OH}\At{1871}{2309}{O}\At{1910}{2309}{O}
\Rib{2003}{2306}{1948}{2309}\Wd{c1}{2037,2290}\PurA{2037}{2290}{-24}{NH\textsubscript{2}}
\Water{C00001f}{2087}{2268}
% ---------- connectors
\draw[conn] (C00081)--(R00725);
\draw[conn] ([xshift=-61pt]C00031.south) .. controls (455,185) and (405,190) .. ([yshift=-4pt]R00725.north east);
\draw[conn] ([xshift=44pt]C00031.south)--([xshift=-21pt]R02738.north);
\draw[conn] ([xshift=44pt]C00031.south) .. controls (640,200) and (800,210) .. ([yshift=-18pt]R00016.north west);
\draw[conn] ([xshift=-17pt]C04261.south)--([xshift=7pt]R02738.north);
\draw[conn] (C00660)--(R00016);
\draw[conn] ([xshift=-34pt]R00725.south)--([yshift=-6pt]C00104.north east);
\draw[conn] (R00725)--(C00092);
\draw[conn] ([xshift=-3pt]R02738.south)--([xshift=7pt]C00668.north);
\draw[conn] ([xshift=29pt]R02738.south)--([xshift=-62pt]C00615.north);
\draw[conn] ([xshift=3.5pt]R00016.south) .. controls (1002,290) and (1005,310) .. ([xshift=-9.5pt]C00103.north);
\draw[conn] ([xshift=-32pt]C00092.south) .. controls (280,490) and (272,510) .. ([xshift=17pt]R00771.north);
\draw[conn] ([xshift=14pt]C00668.south) .. controls (678,475) and (688,505) .. (R02739.north);
\draw[conn] ([xshift=70pt]C00103.south) .. controls (1110,490) and (1150,515) .. ([yshift=-4pt]R00289.north west);
\draw[conn] ([xshift=-14pt]C00075.south)--([xshift=8pt]R00289.north);
\draw[conn] ([xshift=-2pt]R00771.south)--([xshift=7pt]C00085.north);
\draw[conn] ([xshift=17pt]R02739.south) .. controls (722,600) and (738,625) .. ([xshift=-30pt]C01172.north);
\draw[conn] ([xshift=54pt]C00085.south) .. controls (310,790) and (365,815) .. ([xshift=-38pt]R00756.north);
\draw[conn] (C00085.south) -- (231,1500) .. controls (234,1650) and (300,1735) .. (440,1779) .. controls (480,1790) and (510,1808) .. ([yshift=11pt]R01067.west);
\draw[conn] ([xshift=-24pt]C00002.south) .. controls (477,795) and (465,815) .. ([xshift=12pt]R00756.north);
\draw[conn] ([xshift=5.5pt]C01172.south)--([xshift=-3pt]R03321.north);
\draw[conn] ([xshift=-10pt]R00756.south) .. controls (420,925) and (408,950) .. ([xshift=26pt]C00354.north);
\draw[conn] ([xshift=30pt]R00756.south)--([xshift=-68pt]C00003a.north);
\draw[conn] (R03321.south) .. controls (790,950) and (788,1100) .. ([xshift=2pt]C05345.north);
\draw[conn] ([xshift=42pt]C00354.south) .. controls (430,1115) and (450,1160) .. ([xshift=-17pt]R01068.north);
\draw[conn] (R01068)--(C00111);
\draw[conn] (C00111)--(R01015);
\draw[conn] ([xshift=18pt]R01068.south) .. controls (570,1285) and (590,1420) .. ([xshift=5pt]C00118.north);
\draw[conn] ([xshift=14pt]R01015.south)--([xshift=-39pt]C00118.north);
\draw[conn] (C00118)--(R01067);
\draw[conn] ([yshift=-59pt]C00118.east)--([xshift=-24pt]R01830.north);
\draw[conn] ([xshift=-5pt]C05345.south) .. controls (770,1420) and (745,1650) .. ([xshift=4pt]R01830.north);
\draw[conn] (R01067)--(C00279);
\draw[conn] ([xshift=27pt]R01067.south)--([xshift=-55pt]C00231.north);
\draw[conn] ([xshift=-25pt]R01830.south) .. controls (670,1865) and (650,1895) .. ([yshift=-3pt]C00279.north east);
\draw[conn] ([xshift=6pt]R01830.south)--([xshift=-11pt]C00231.north);
\draw[conn] ([xshift=3.5pt]C00231.south) .. controls (755,2060) and (757,2090) .. ([xshift=-2pt]R01529.north);
\draw[conn] ([xshift=27pt]R01529.south) .. controls (815,2190) and (850,2225) .. ([xshift=-51pt]C00199.north);
\draw[conn] ([xshift=26pt]C00199.south) .. controls (970,2385) and (990,2410) .. ([xshift=-13pt]R01056.north);
\draw[conn] ([xshift=8pt]R01056.south) .. controls (1028,2505) and (1034,2520) .. ([xshift=-17pt]C00117.north);
\draw[conn] ([xshift=62pt]C00117.south) .. controls (1140,2655) and (1165,2680) .. ([xshift=-32pt]R00182.north);
\draw[conn] (C00147)--(R00182);
\draw[conn] ([yshift=7pt]C00147.south east) .. controls (1295,2665) and (1335,2685) .. ([yshift=17pt]R00190.west);
\draw[conn] ([xshift=-2pt]C00119.south)--([xshift=2pt]R00190.north);
\draw[conn] ([xshift=-2pt]R00190.south)--([xshift=2.5pt]C00020.north);
\draw[conn] (R00182)--(C00001h);
\draw[conn] ([xshift=35pt]R00182.south) .. controls (1280,2760) and (1305,2775) .. ([xshift=-81pt]C00020.north);
\draw[conn] ([yshift=3pt]R00190.south east) .. controls (1490,2762) and (1530,2785) .. ([xshift=-60pt]C00013.north);
\draw[conn] ([yshift=-2pt]R00289.east) .. controls (1450,570) and (1600,580) .. (1670,620) .. controls (1700,650) and (1713,700) .. (1712,760) .. controls (1712,1400) and (1700,2200) .. (1690,2650) .. controls (1685,2700) and (1665,2745) .. ([xshift=24pt]C00013.north);
\draw[conn] ([xshift=91pt]C00020.south) .. controls (1525,2920) and (1555,2938) .. (R03876.north west);
\draw[conn] (C00013)--(R03876);
\draw[conn] ([xshift=-20pt]Eempty.south) .. controls (1695,2905) and (1665,2930) .. ([xshift=28pt]R03876.north);
\draw[conn] (R03876.south west) .. controls (1540,3025) and (1505,3045) .. ([xshift=17pt]Fempty.north);
\draw[conn] (R03876)--(C02188);
\draw[conn] ([yshift=3pt]R03876.south east)--([xshift=-116pt]C00002c.north);
\draw[conn] (C00029)--(R00286);
\draw[conn] ([xshift=12pt]C00001a.south) .. controls (950,800) and (1030,840) .. ([yshift=5pt]R00286.west);
\draw[conn] ([yshift=4pt]C00003b.south west) .. controls (1300,820) and (1240,835) .. ([yshift=12pt]R00286.east);
\draw[conn] ([yshift=-13pt]R00286.west) .. controls (1060,905) and (990,950) .. ([xshift=8pt]C00080a.north);
\draw[conn] (R00286)--(C00167);
\draw[conn] ([yshift=-21pt]R00286.east)--([yshift=-4pt]C00004a.north west);
\draw[conn] (C00167)--(R01384);
\draw[conn] ([xshift=-14pt]R01384.south)--([xshift=46pt]C00190.north);
\draw[conn] ([xshift=14pt]R01384.south)--([xshift=-15pt]C00011a.north);
\draw[conn] ([xshift=21pt]C00014a.south) .. controls (2240,1455) and (2265,1495) .. ([xshift=-22pt]R04857.north);
\draw[conn] (C05516)--(R04857);
\draw[conn] ([xshift=-16pt]C00011b.south) .. controls (2385,1450) and (2360,1495) .. ([xshift=21pt]R04857.north);
\draw[conn] ([xshift=-10pt]R04857.south)--([xshift=27pt]C05515.north);
\draw[conn] ([xshift=10pt]R04857.south)--([xshift=-14pt]C00001d.north);
\draw[conn] (C05515)--(R02141);
\draw[conn] ([xshift=-10pt]R02141.south) .. controls (2232,1880) and (2220,1910) .. ([xshift=13pt]C00001e.north);
\draw[conn] ([xshift=10pt]R02141.south) .. controls (2272,1875) and (2280,1900) .. ([xshift=-22pt]C00385.north);
\draw[conn] ([xshift=-40pt]C00385.south) .. controls (2220,2095) and (2100,2125) .. ([yshift=3pt]R01768.east);
\draw[conn] (C00080b.south) .. controls (1800,2050) and (1850,2095) .. ([yshift=13pt]R01768.west);
\draw[conn] ([xshift=-13.5pt]C00004b.south)--([xshift=5pt]R01768.north);
\draw[conn] ([xshift=-7pt]R01768.south) .. controls (1946,2185) and (1942,2200) .. ([xshift=26.5pt]C00003c.north);
\draw[conn] ([yshift=4pt]R01768.south east) .. controls (2040,2185) and (2090,2215) .. ([xshift=-14.5pt]C00001f.north);
\draw[conn] ([yshift=-5pt]R01768.west) .. controls (1740,2170) and (1590,2185) .. ([xshift=33pt]C00262.north);
\draw[conn] ([xshift=19pt]C00262.south) .. controls (1535,2385) and (1548,2410) .. ([xshift=-9pt]R01244.north);
\draw[conn] ([xshift=-15pt]C00014c.south) .. controls (1600,2375) and (1585,2405) .. ([xshift=12pt]R01244.north);
\draw[conn] ([yshift=-5pt]R01244.west) .. controls (1420,2470) and (1330,2495) .. ([yshift=-7pt]C00147.north east);
\draw[conn] ([xshift=6pt]R01244.south)--([xshift=-11pt]C00001g.north);
\draw[conn] ([xshift=-10pt]R00289.south)--([xshift=34pt]C00029.north);
\end{tikzpicture}
\end{document}
